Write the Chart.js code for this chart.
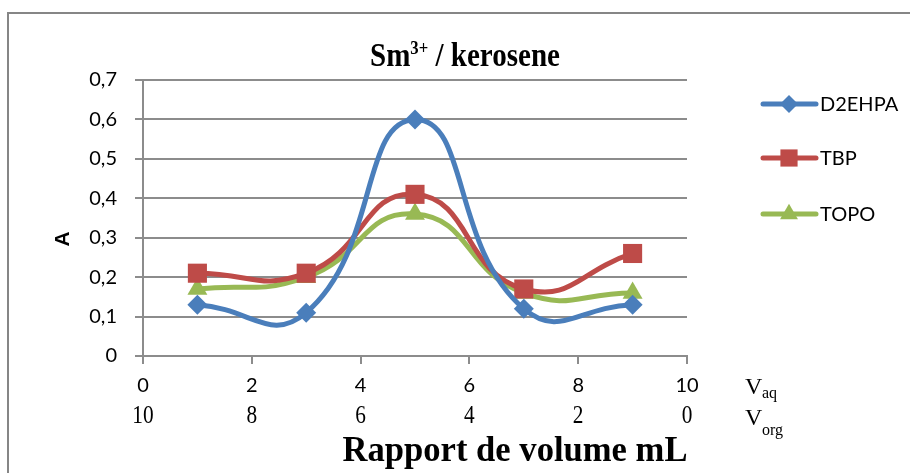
<!DOCTYPE html>
<html>
<head>
<meta charset="utf-8">
<script src="https://cdn.jsdelivr.net/npm/chart.js@4.4.1/dist/chart.umd.min.js"></script>
<style>
  html, body { margin: 0; padding: 0; background: #fff; }
  #wrap { width: 910px; height: 473px; position: relative; }
</style>
</head>
<body>
<div id="wrap"><canvas id="c" width="910" height="473"></canvas></div>
<script>
// ---- data ----
const xValues = [1, 3, 5, 7, 9];
const d2ehpa = [0.13, 0.11, 0.60, 0.12, 0.13];
const tbp    = [0.21, 0.21, 0.41, 0.17, 0.26];
const topo   = [0.17, 0.20, 0.36, 0.16, 0.16];
const seriesNames = ['D2EHPA', 'TBP', 'TOPO'];
const aqTicks  = [0, 2, 4, 6, 8, 10];
const orgTicks = [10, 8, 6, 4, 2, 0];
const titleMain = 'Sm';
const titleSup = '3+';
const titleRest = ' / kerosene';
const xTitle = 'Rapport de volume mL';
const yTitle = 'A';

const colors = ['#4A7EBB', '#BE4B48', '#98B954'];
const styles = ['rectRot', 'rect', 'triangle'];
const radii = [10, 13.5, 11.5];

function pts(arr) { return xValues.map((x, i) => ({ x: x, y: arr[i] })); }
const allSeries = [d2ehpa, tbp, topo];

const datasets = allSeries.map((s, i) => ({
  label: seriesNames[i],
  data: pts(s),
  borderColor: colors[i],
  backgroundColor: colors[i],
  borderWidth: 5,
  pointStyle: styles[i],
  pointRadius: radii[i],
  pointHoverRadius: radii[i],
  pointBorderWidth: 0,
  tension: 0.5,
  showLine: true,
  fill: false
}));

const SERIF = '"Liberation Serif", "Times New Roman", serif';

const extras = {
  id: 'extras',
  beforeDraw(chart) {
    const ctx = chart.ctx;
    ctx.save();
    ctx.fillStyle = '#fff';
    ctx.fillRect(0, 0, chart.width, chart.height);
    ctx.strokeStyle = '#868686';
    ctx.lineWidth = 2;
    ctx.beginPath();
    ctx.moveTo(8, 480);
    ctx.lineTo(8, 13);
    ctx.lineTo(920, 13);
    ctx.stroke();
    ctx.restore();
  },
  afterDraw(chart) {
    const ctx = chart.ctx;
    const xs = chart.scales.x;
    ctx.save();
    ctx.fillStyle = '#000';
    // title (condensed)
    const sx = 0.88;
    const fMain = 'bold 33px ' + SERIF;
    const fSup = 'bold 19px ' + SERIF;
    ctx.font = fMain;
    const w1 = ctx.measureText(titleMain).width;
    const w3 = ctx.measureText(titleRest).width;
    ctx.font = fSup;
    const w2 = ctx.measureText(titleSup).width;
    const total = (w1 + w2 + w3) * sx;
    ctx.save();
    ctx.translate(465 - total / 2, 66);
    ctx.scale(sx, 1);
    ctx.textBaseline = 'alphabetic';
    ctx.textAlign = 'left';
    let tx = 0;
    ctx.font = fMain; ctx.fillText(titleMain, tx, 0); tx += w1;
    ctx.font = fSup; ctx.fillText(titleSup, tx, -12); tx += w2;
    ctx.font = fMain; ctx.fillText(titleRest, tx, 0);
    ctx.restore();

    // second row of x labels (V org)
    ctx.font = '26px ' + SERIF;
    ctx.textAlign = 'center';
    ctx.textBaseline = 'middle';
    aqTicks.forEach((v, i) => {
      ctx.save();
      ctx.translate(xs.getPixelForValue(v), 416);
      ctx.scale(0.82, 1);
      ctx.fillText(String(orgTicks[i]), 0, 0);
      ctx.restore();
    });
    // V_aq and V_org
    ctx.textAlign = 'left';
    ctx.textBaseline = 'alphabetic';
    ctx.font = '24px ' + SERIF;
    ctx.fillText('V', 745, 394);
    ctx.fillText('V', 745, 425);
    ctx.font = '16px ' + SERIF;
    ctx.fillText('aq', 762, 398);
    ctx.fillText('org', 762, 435);

    // x title (condensed)
    ctx.save();
    ctx.font = 'bold 36px ' + SERIF;
    const wx = ctx.measureText(xTitle).width;
    const sxx = 345 / wx;
    ctx.translate(515, 461);
    ctx.scale(sxx, 1);
    ctx.textAlign = 'center';
    ctx.fillText(xTitle, 0, 0);
    ctx.restore();

    // y title
    ctx.save();
    ctx.translate(63, 239);
    ctx.rotate(-Math.PI / 2);
    ctx.font = 'bold 21px "Liberation Sans", Arial, sans-serif';
    ctx.textAlign = 'center';
    ctx.textBaseline = 'middle';
    ctx.fillText(yTitle, 0, 0);
    ctx.restore();

    // legend
    const ly = [104, 158, 214];
    chart.data.datasets.forEach((ds, i) => {
      ctx.strokeStyle = ds.borderColor;
      ctx.lineWidth = 5;
      ctx.lineCap = 'round';
      ctx.beginPath();
      ctx.moveTo(763, ly[i]);
      ctx.lineTo(816, ly[i]);
      ctx.stroke();
      ctx.fillStyle = ds.borderColor;
      ctx.strokeStyle = ds.borderColor;
      Chart.helpers.drawPoint(ctx, { pointStyle: ds.pointStyle, radius: ds.pointRadius * 0.9, borderWidth: 0, rotation: 0 }, 789, ly[i]);
      ctx.fillStyle = '#000';
      ctx.font = '20px Lato, "Open Sans", sans-serif';
      ctx.textAlign = 'left';
      ctx.textBaseline = 'middle';
      ctx.fillText(ds.label, 820, ly[i] + 1);
    });
    ctx.restore();
  }
};

new Chart(document.getElementById('c'), {
  type: 'scatter',
  data: { datasets: datasets },
  options: {
    responsive: false,
    animation: false,
    events: [],
    layout: { padding: { left: 40, right: 223, top: 80, bottom: 40 } },
    plugins: { legend: { display: false }, title: { display: false }, tooltip: { enabled: false } },
    scales: {
      x: {
        type: 'linear', min: 0, max: 10,
        afterBuildTicks(scale) { scale.ticks = aqTicks.map(v => ({ value: v })); },
        afterFit(scale) { scale.height = 77; },
        grid: { drawOnChartArea: false, drawTicks: true, tickLength: 8, color: '#8c8c8c', lineWidth: 2 },
        border: { display: true, color: '#8c8c8c', width: 2 },
        ticks: { padding: 10, color: '#000', font: { family: 'Lato, "Open Sans", sans-serif', size: 20 },
          callback: (v) => String(v) }
      },
      y: {
        min: 0, max: 0.7,
        afterBuildTicks(scale) {
          const t = [];
          for (let i = 0; i <= 7; i++) t.push({ value: i / 10 });
          scale.ticks = t;
        },
        afterFit(scale) { scale.width = 103; },
        grid: { color: '#8c8c8c', lineWidth: 2, drawTicks: true, tickLength: 8 },
        border: { display: true, color: '#8c8c8c', width: 2 },
        ticks: { padding: 18, color: '#000', font: { family: 'Lato, "Open Sans", sans-serif', size: 20 },
          callback: (v) => (Math.round(v * 10) / 10).toString().replace('.', ',') }
      }
    }
  },
  plugins: [extras]
});
</script>
</body>
</html>
